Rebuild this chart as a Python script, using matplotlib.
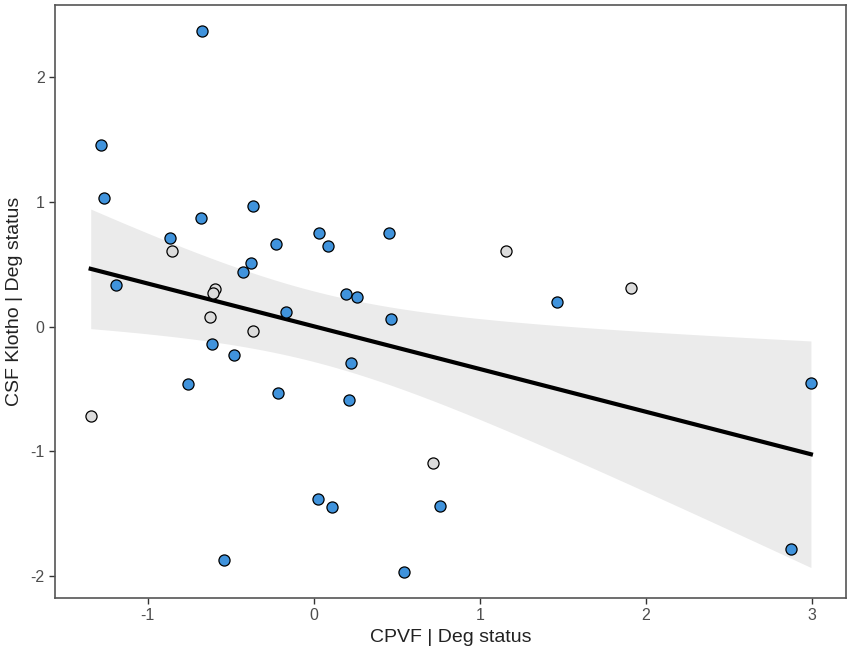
import matplotlib
matplotlib.use("Agg")
import matplotlib.pyplot as plt
import numpy as np

plt.rcParams['font.family'] = ['Liberation Sans', 'DejaVu Sans']
plt.rcParams['axes.unicode_minus'] = False

# partial residuals, "deg" points in blue, others light gray
blue_x = [-0.674, -1.278, -1.260, -0.680, -0.363, -0.866, -0.227, 0.034, 0.088,
          0.451, -0.375, -0.424, -1.190, 0.194, 0.259, -0.167, 0.467, -0.614,
          -0.478, 0.226, -0.758, -0.217, 0.214, 0.028, 0.110, -0.540, 0.543,
          1.466, 2.992, 0.758, 2.872]
blue_y = [2.367, 1.455, 1.028, 0.873, 0.969, 0.710, 0.664, 0.747, 0.648,
          0.750, 0.509, 0.435, 0.330, 0.263, 0.234, 0.116, 0.063, -0.138,
          -0.226, -0.293, -0.464, -0.533, -0.587, -1.381, -1.448, -1.873, -1.966,
          0.194, -0.456, -1.439, -1.784]
gray_x = [-0.853, -0.596, -0.604, -0.624, -0.363, -1.342, 1.155, 1.911, 0.716]
gray_y = [0.603, 0.303, 0.271, 0.079, -0.034, -0.715, 0.605, 0.306, -1.097]

x_label = "CPVF | Deg status"
y_label = "CSF Klotho | Deg status"

X = np.array(blue_x + gray_x)
Y = np.array(blue_y + gray_y)

# linear fit with 95% confidence band
n = len(X)
b1, b0 = np.polyfit(X, Y, 1)
xs = np.linspace(X.min(), X.max(), 200)
fit = b0 + b1 * xs
res = Y - (b0 + b1 * X)
s = np.sqrt(np.sum(res ** 2) / (n - 2))
t = 2.024  # t(0.975, 38)
se = s * np.sqrt(1.0 / n + (xs - X.mean()) ** 2 / np.sum((X - X.mean()) ** 2))

fig = plt.figure(figsize=(8.51, 6.54), dpi=100)
ax = fig.add_axes([0.0646, 0.0861, 0.9295, 0.9067])

ax.fill_between(xs, fit - t * se, fit + t * se, color='#ebebeb', lw=0, zorder=1)
ax.plot(xs, fit, color='black', lw=3, zorder=2)
ax.scatter(gray_x, gray_y, s=64, c='#dcdcdc', edgecolors='black', linewidths=0.9, zorder=3)
ax.scatter(blue_x, blue_y, s=64, c='#4093dc', edgecolors='black', linewidths=0.9, zorder=3)

ax.set_xlim(-1.557, 3.203)
ax.set_ylim(-2.175, 2.581)
ax.set_xticks([-1, 0, 1, 2, 3])
ax.set_yticks([-2, -1, 0, 1, 2])
ax.set_xlabel(x_label, fontsize=14, color='#222222', labelpad=4)
ax.set_ylabel(y_label, fontsize=14, color='#222222', labelpad=5)
ax.tick_params(labelsize=11.5, colors='#333333', length=4, width=1, labelcolor='#4d4d4d')
for sp in ax.spines.values():
    sp.set_color('#555555')
    sp.set_linewidth(1.2)

fig.savefig("out.png", dpi=100)
